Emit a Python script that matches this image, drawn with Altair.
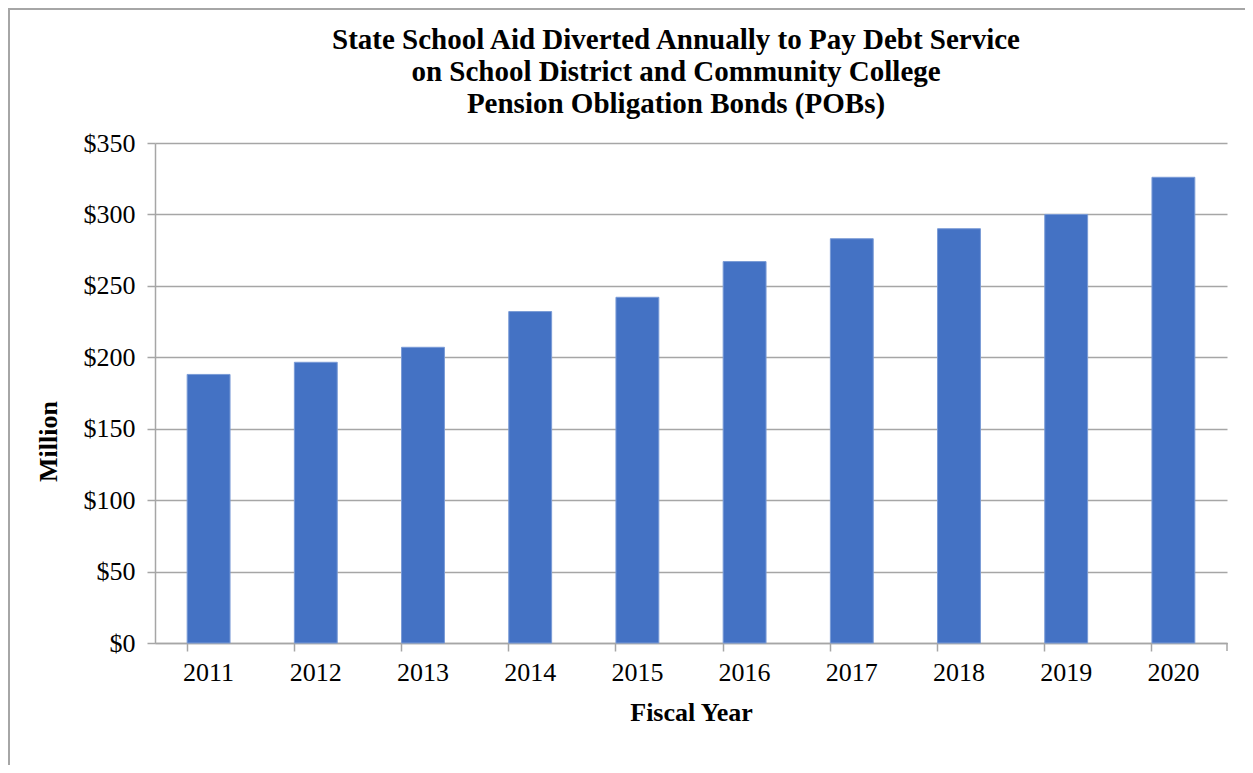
import altair as alt
import pandas as pd

years = ["2011", "2012", "2013", "2014", "2015", "2016", "2017", "2018", "2019", "2020"]
values = [188, 196.5, 207, 232, 242, 267, 283, 290, 300, 326]
y_ticks = [0, 50, 100, 150, 200, 250, 300, 350]
title_lines = [
    "State School Aid Diverted Annually to Pay Debt Service",
    "on School District and Community College",
    "Pension Obligation Bonds (POBs)",
]

df = pd.DataFrame({"year": years, "value": values})

FONT = "Liberation Serif, Times New Roman, serif"
W, H = 1072, 500

bars = alt.Chart(df).mark_bar(color="#4472C4", stroke="#7A9BD6", strokeWidth=1).encode(
    x=alt.X(
        "year:N",
        sort=years,
        scale=alt.Scale(paddingInner=0.6, paddingOuter=0.3),
        axis=alt.Axis(
            title="Fiscal Year",
            labelAngle=0,
            bandPosition=0,
            tickSize=8,
            tickColor="#a6a6a6",
            domainColor="#a6a6a6",
            domainWidth=1.5,
            tickWidth=1.5,
            labelPadding=8,
            labelFontSize=26,
            titleFontSize=26,
            titleFontWeight="bold",
            titlePadding=14,
            labelFont=FONT,
            titleFont=FONT,
            labelColor="black",
            titleColor="black",
            grid=False,
        ),
    ),
    y=alt.Y(
        "value:Q",
        scale=alt.Scale(domain=[0, 350], nice=False),
        axis=alt.Axis(
            title="Million",
            values=y_ticks,
            format="$,.0f",
            tickSize=8,
            tickColor="#a6a6a6",
            tickWidth=1.5,
            domainColor="#a6a6a6",
            domainWidth=1.5,
            gridColor="#a6a6a6",
            gridWidth=1.5,
            labelPadding=12,
            labelFontSize=26,
            titleFontSize=26,
            titleFontWeight="bold",
            titlePadding=22,
            titleY=H / 2 + 48,
            labelFont=FONT,
            titleFont=FONT,
            labelColor="black",
            titleColor="black",
        ),
    ),
)

end_tick = alt.Chart(df.head(1)).mark_rule(color="#a6a6a6", strokeWidth=1.5).encode(
    x=alt.value(W), y=alt.value(H), y2=alt.value(H + 8)
)

frame = alt.Chart(df.head(1)).mark_rect(
    fill=None, stroke="#a6a6a6", strokeWidth=2, clip=False
).encode(
    x=alt.value(-146), x2=alt.value(W + 200), y=alt.value(-134), y2=alt.value(H + 300)
)

title = alt.Chart(df.head(1)).mark_text(
    font=FONT,
    fontSize=29,
    fontWeight="bold",
    color="black",
    align="center",
    baseline="alphabetic",
    lineHeight=32,
).encode(
    x=alt.value(W / 2 - 15),
    y=alt.value(-94),
    text=alt.value(title_lines),
)

chart = (
    alt.layer(frame, bars, end_tick, title)
    .properties(
        width=W,
        height=H,
        autosize=alt.AutoSizeParams(type="none"),
        padding={"left": 147, "top": 135, "right": 18, "bottom": 122},
    )
    .configure_view(stroke=None)
)

chart.save("out.html", embed_options={"renderer": "svg", "actions": False})
